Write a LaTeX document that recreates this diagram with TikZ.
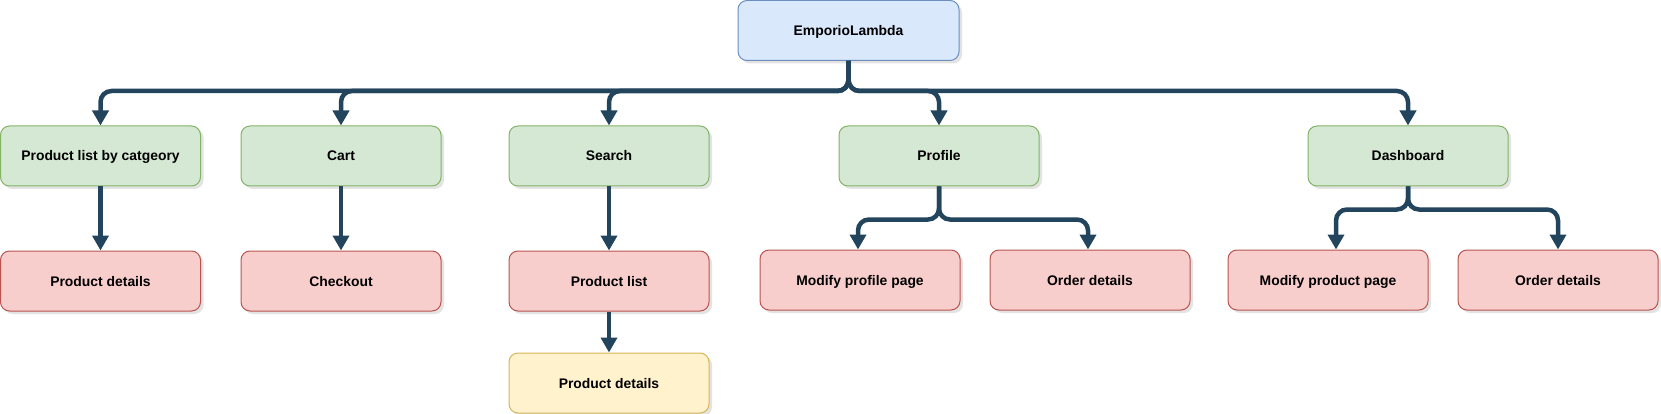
\documentclass[tikz,border=0pt]{standalone}
\usepackage{fontspec}
\setmainfont{Liberation Sans}
\usepackage{tikz}
\usetikzlibrary{arrows.meta,positioning,shadows}
\definecolor{linkblue}{HTML}{23445D}
\definecolor{rootfill}{HTML}{DAE8FC}
\definecolor{rootdraw}{HTML}{6C8EBF}
\definecolor{mainfill}{HTML}{D5E8D4}
\definecolor{maindraw}{HTML}{82B366}
\definecolor{subfill}{HTML}{F8CECC}
\definecolor{subdraw}{HTML}{B85450}
\definecolor{leaffill}{HTML}{FFF2CC}
\definecolor{leafdraw}{HTML}{D6B656}
\tikzset{
    %Define standard arrow tip
    >={Triangle[width=16pt,length=15pt]},
    %Define style for boxes
    pagebox/.style={
           rectangle,
           rounded corners=9pt,
           line width=1pt,
           minimum width=200pt,
           minimum height=60pt,
           inner sep=0pt,
           text height=10pt,
           text depth=0pt,
           font=\fontsize{13.9}{16}\selectfont\bfseries,
           text centered,
           drop shadow={shadow xshift=3pt,shadow yshift=-3pt,fill=black!22}},
    rootbox/.style={pagebox,fill=rootfill,draw=rootdraw,minimum width=221pt},
    mainbox/.style={pagebox,fill=mainfill,draw=maindraw},
    subbox/.style={pagebox,fill=subfill,draw=subdraw},
    leafbox/.style={pagebox,fill=leaffill,draw=leafdraw},
    % Define arrow style
    link/.style={
           ->,
           draw=linkblue,
           line width=4.5pt,
           rounded corners=11pt}
}
\begin{document}
\begin{tikzpicture}[x=1pt,y=-1pt,node distance=64pt]
\useasboundingbox (0,0) rectangle (1661,414);
\node[rootbox] (root) at (848.5,30.5) {EmporioLambda};
\node[mainbox] (cat) at (100.5,156) {Product list by catgeory};
\node[mainbox] (cart) at (341,156) {Cart};
\node[mainbox] (search) at (609,156) {Search};
\node[mainbox] (prof) at (939,156) {Profile};
\node[mainbox] (dash) at (1408,156) {Dashboard};
\node[subbox,below=of cat] (catdet) {Product details};
\node[subbox,below=of cart] (check) {Checkout};
\node[subbox,below=of search] (plist) {Product list};
\node[leafbox,below=41pt of plist] (pdet) {Product details};
\node[subbox] (mprof) at (860,280) {Modify profile page};
\node[subbox] (ord) at (1090,280) {Order details};
\node[subbox] (mprod) at (1328,280) {Modify product page};
\node[subbox] (ordd) at (1558,280) {Order details};
% root to main pages
\foreach \n in {cat,cart,search,prof,dash}
  \draw[link] (root.south) -- ++(0,30) -| (\n.north);
% main pages to sub pages
\draw[link] (cat) -- (catdet);
\draw[link] (cart) -- (check);
\draw[link] (search) -- (plist);
\draw[link] (plist) -- (pdet);
\draw[link] (prof.south) -- ++(0,33) -| ([xshift=-2pt]mprof.north);
\draw[link] (prof.south) -- ++(0,33) -| ([xshift=-2pt]ord.north);
\draw[link] (dash.south) -- ++(0,23) -| ([xshift=8pt]mprod.north);
\draw[link] (dash.south) -- ++(0,23) -| (ordd.north);
\end{tikzpicture}
\end{document}
